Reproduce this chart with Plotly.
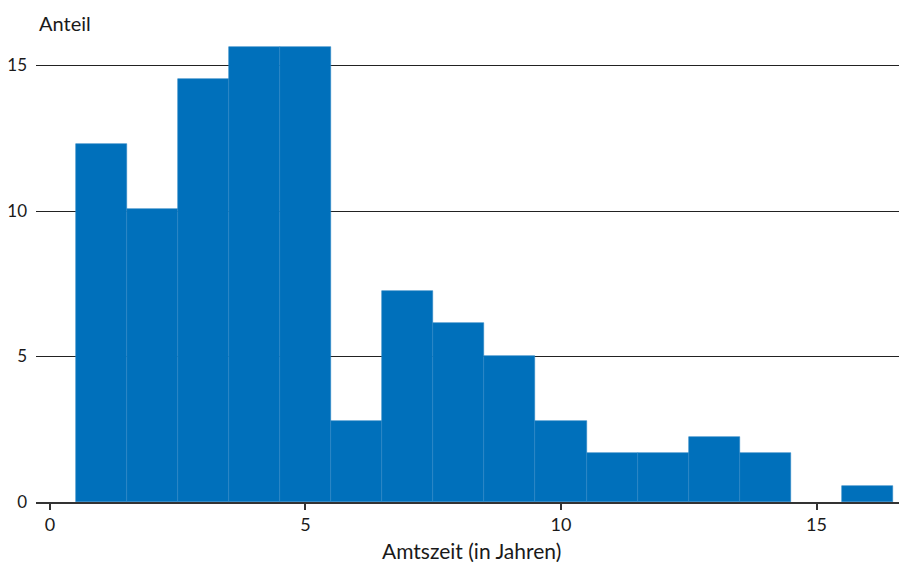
import plotly.graph_objects as go

years = list(range(1, 17))
anteil = [12.29, 10.06, 14.53, 15.64, 15.64, 2.79, 7.26, 6.15, 5.03, 2.79, 1.68, 1.68, 2.23, 1.68, 0.0, 0.56]
x_ticks = [0, 5, 10, 15]
y_ticks = [0, 5, 10, 15]

FONT = "Lato"
FS = 17
FT = 21
# page body has an 8px margin: shrink figure and margins by 8px
line_w = [0.6 if v > 0 else 0 for v in anteil]

fig = go.Figure()
fig.add_trace(go.Bar(
    x=years, y=anteil, width=1,
    marker=dict(color="#0070bb", line=dict(color="#2a84c6", width=line_w)),
    hoverinfo="x+y",
))
fig.update_layout(
    width=899, height=554,
    margin=dict(l=28, r=0, t=22, b=60),
    paper_bgcolor="white", plot_bgcolor="white",
    showlegend=False, bargap=0,
    font=dict(family=FONT, size=FS, color="#1a1a1a"),
    xaxis=dict(range=[-0.273, 16.77], tickvals=x_ticks, showgrid=False, zeroline=False,
               showline=True, linecolor="#333333", linewidth=1.5,
               ticks="outside", ticklen=6, tickwidth=1.5, tickcolor="#333333",
               tickfont=dict(size=18), automargin=False),
    yaxis=dict(range=[0, 16.22], tickvals=y_ticks, showgrid=True, gridcolor="#222222",
               gridwidth=1.3, zeroline=False, showline=False, ticks="",
               ticklabelstandoff=8, tickfont=dict(size=FS), automargin=False),
    annotations=[
        dict(text="Anteil", xref="paper", yref="paper", x=0, y=1, xanchor="left",
             yanchor="bottom", xshift=2, yshift=-6, borderpad=0, showarrow=False,
             font=dict(size=20)),
        dict(text="Amtszeit (in Jahren)", xref="paper", yref="paper", x=0.5, y=0,
             xanchor="center", yanchor="middle", yshift=-48, showarrow=False,
             font=dict(size=FT)),
    ],
)
fig.write_html("out.html")
